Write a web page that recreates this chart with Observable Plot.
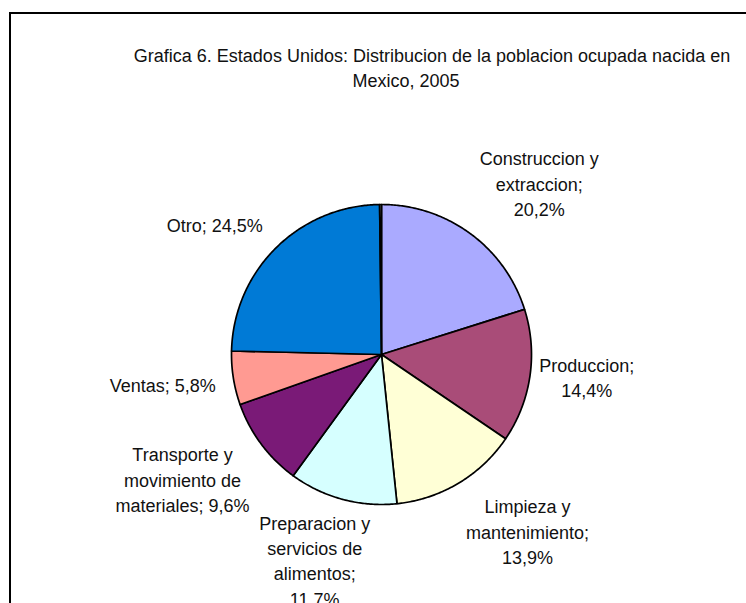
<!DOCTYPE html>
<html>
<head>
<meta charset="utf-8">
<script src="https://cdn.jsdelivr.net/npm/d3@7"></script>
<script src="https://cdn.jsdelivr.net/npm/@observablehq/plot@0.6"></script>
<style>
  html, body { margin: 0; padding: 0; background: #fff; overflow: hidden; width: 746px; height: 603px; }
  #wrap { position: relative; width: 746px; height: 603px; overflow: hidden; }
  #frame { position: absolute; left: 9px; top: 12px; width: 800px; height: 700px; border: 2px solid #000; box-sizing: border-box; }
  .tl { position: absolute; width: 740px; text-align: center; font-family: "Liberation Sans", Arial, sans-serif; font-size: 18px; line-height: 25px; color: #111; white-space: nowrap; }
  #t1 { left: 62px; top: 44px; }
  #t2 { left: 36px; top: 69px; }
  #chart { position: absolute; left: 0; top: 0; }
</style>
</head>
<body>
<div id="wrap">
  <div id="frame"></div>
  <div id="chart"></div>
  <div id="title"><div class="tl" id="t1">Grafica 6. Estados Unidos: Distribucion de la poblacion ocupada nacida en</div><div class="tl" id="t2">Mexico, 2005</div></div>
</div>
<script>
const categories = ["Construccion y extraccion", "Produccion", "Limpieza y mantenimiento", "Preparacion y servicios de alimentos", "Transporte y movimiento de materiales", "Ventas", "Otro", "(sin etiqueta)"];
const values = [20.2, 14.4, 13.9, 11.7, 9.6, 5.8, 24.5, 0.2];
const labels = ["Construccion y\nextraccion;\n20,2%", "Produccion;\n14,4%", "Limpieza y\nmantenimiento;\n13,9%", "Preparacion y\nservicios de\nalimentos;\n11,7%", "Transporte y\nmovimiento de\nmateriales; 9,6%", "Ventas; 5,8%", "Otro; 24,5%", ""];
const colors = ["#AAAAFF", "#A94C78", "#FFFFD6", "#D6FFFF", "#7A1A77", "#FF9A92", "#007AD6", "#FFFFFF"];

// layout (pixel nudges for label placement, outside the data)
const labelRadius = 1.43;
const nudges = [[31, 1], [-7, -9], [36, -8], [-11, -2], [-27, -4], [-7, -4], [-16, 22], [0, 0]];

const pie = d3.pie().sort(null).value(d => d.value)(categories.map((c, i) => ({category: c, value: values[i], label: labels[i], i})));

const polys = [];
pie.forEach(p => {
  const n = Math.max(2, Math.ceil((p.endAngle - p.startAngle) / 0.01));
  polys.push({category: p.data.category, x: 0, y: 0});
  for (let k = 0; k <= n; k++) {
    const a = p.startAngle + (p.endAngle - p.startAngle) * k / n;
    polys.push({category: p.data.category, x: Math.sin(a), y: Math.cos(a)});
  }
});

const labelData = pie.map(p => {
  const a = (p.startAngle + p.endAngle) / 2;
  return {category: p.data.category, label: p.data.label, x: labelRadius * Math.sin(a), y: labelRadius * Math.cos(a), dx: nudges[p.data.i][0], dy: nudges[p.data.i][1]};
}).filter(d => d.label);

const fontSize = 18;
const chart = Plot.plot({
  width: 746,
  height: 603,
  margin: 0,
  style: {background: "transparent", fontFamily: "Liberation Sans, Arial, sans-serif"},
  x: {domain: [-381 / 150, (746 - 381) / 150], axis: null},
  y: {domain: [-(603 - 354) / 150, 354 / 150], axis: null},
  color: {domain: categories, range: colors},
  marks: [
    Plot.line(polys, {x: "x", y: "y", z: "category", fill: "category", stroke: "#000", strokeWidth: 1.7, curve: "linear-closed", strokeLinejoin: "round"}),
    ...labelData.map(d => Plot.text([d], {x: "x", y: "y", text: "label", dx: d.dx, dy: d.dy, fontSize, lineHeight: 25.3 / fontSize, fill: "#111", textAnchor: "middle"}))
  ]
});
document.getElementById("chart").appendChild(chart);
</script>
</body>
</html>
